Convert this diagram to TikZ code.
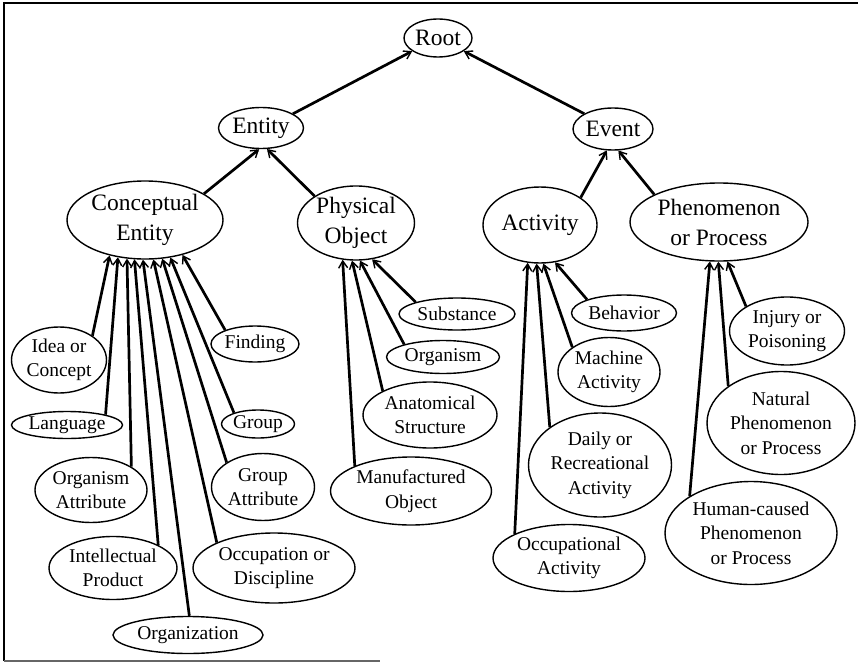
\documentclass[tikz,border=0pt]{standalone}
\usepackage{fontspec}
\setmainfont{Liberation Serif}
\usetikzlibrary{arrows.meta, shapes.geometric}

\newcommand{\bigtxt}{\fontsize{23.5}{30}\selectfont}
\newcommand{\smalltxt}{\fontsize{19.5}{24.5}\selectfont}

\begin{document}
\begin{tikzpicture}[
  x=1pt, y=-1pt,
  cls/.style 2 args={ellipse, draw, line width=1.4pt, inner sep=0pt, align=center,
             minimum width=#1, minimum height=#2},
  top/.style 2 args={cls={#1}{#2}, font=\bigtxt},
  leaf/.style 2 args={cls={#1}{#2}, font=\smalltxt},
  isa/.style={line width=2.7pt, -{Straight Barb[length=7pt, width=9pt, line width=1.4pt]}},
]
  \useasboundingbox (0,0) rectangle (858,663);
  \draw[line width=1.2pt] (858,3) -- (4,3) -- (4,661);
  \draw[line width=1.2pt, black!60] (4,661) -- (380,661);

  % upper levels
  \node[top={68pt}{38pt}] (root) at (438,38) {Root};
  \node[top={85pt}{41pt}] (entity) at (261,128) {Entity};
  \node[top={80pt}{42pt}] (event) at (613,129) {Event};
  \node[top={156pt}{78pt}] (concept) at (145,220) {Conceptual\\Entity};
  \node[top={117pt}{74pt}] (phys) at (356,223) {Physical\\Object};
  \node[top={114pt}{76pt}] (act) at (540,225) {Activity};
  \node[top={178pt}{78pt}] (phen) at (719,222) {Phenomenon\\or Process};

  % conceptual entity leaves
  \node[leaf={95pt}{66pt}] (idea) at (59,360) {Idea or\\Concept};
  \node[leaf={111pt}{27pt}] (lang) at (67,425) {Language};
  \node[leaf={112pt}{65pt}] (orgattr) at (91,490) {Organism\\Attribute};
  \node[leaf={128pt}{63pt}] (intel) at (113,568) {Intellectual\\Product};
  \node[leaf={150pt}{37pt}] (org) at (188,635) {Organization};
  \node[leaf={162pt}{70pt}] (occup) at (274,568) {Occupation or\\Discipline};
  \node[leaf={103pt}{67pt}] (grpattr) at (263,487) {Group\\Attribute};
  \node[leaf={73pt}{28pt}] (group) at (258,424) {Group};
  \node[leaf={88pt}{36pt}] (finding) at (255,344) {Finding};

  % physical object leaves
  \node[leaf={116pt}{32pt}] (subst) at (457,314) {Substance};
  \node[leaf={113pt}{33pt}] (organism) at (443,357) {Organism};
  \node[leaf={134pt}{66pt}] (anat) at (430,415) {Anatomical\\Structure};
  \node[leaf={161pt}{68pt}] (manuf) at (411,491) {Manufactured\\Object};

  % activity leaves
  \node[leaf={105pt}{36pt}] (behav) at (624,313) {Behavior};
  \node[leaf={102pt}{69pt}] (machine) at (609,372) {Machine\\Activity};
  \node[leaf={143pt}{104pt}] (daily) at (600,465) {Daily or\\Recreational\\Activity};
  \node[leaf={152pt}{67pt}] (occact) at (569,558) {Occupational\\Activity};

  % phenomenon leaves
  \node[leaf={115pt}{68pt}] (injury) at (787,331) {Injury or\\Poisoning};
  \node[leaf={148pt}{103pt}] (natural) at (781,423) {Natural\\Phenomenon\\or Process};
  \node[leaf={172pt}{103pt}] (human) at (751,533) {Human-caused\\Phenomenon\\or Process};

  % is-a links
  \draw[isa] (entity.24) -- (root.207);
  \draw[isa] (event.152) -- (root.333);
  \draw[isa] (concept.24) -- (entity.265);
  \draw[isa] (phys.147) -- (entity.286);
  \draw[isa] (act.34) -- (event.254);
  \draw[isa] (phen.157) -- (event.284);

  \draw[isa] (idea.36) -- (concept.225);
  \draw[isa] (lang.15) -- (concept.234);
  \draw[isa] (orgattr.30) -- (concept.245);
  \draw[isa] (intel.27) -- (concept.255);
  \draw[isa] (org.86) -- (concept.267);
  \draw[isa] (occup.156) -- (concept.282);
  \draw[isa] (grpattr.146) -- (concept.294);
  \draw[isa] (group.155) -- (concept.304);
  \draw[isa] (finding.155) -- (concept.317);

  \draw[isa] (manuf.156) -- (phys.250);
  \draw[isa] (anat.153) -- (phys.264);
  \draw[isa] (organism.162) -- (phys.276);
  \draw[isa] (subst.164) -- (phys.294);

  \draw[isa] (occact.156) -- (act.252);
  \draw[isa] (daily.143) -- (act.265);
  \draw[isa] (machine.146) -- (act.275);
  \draw[isa] (behav.160) -- (act.292);

  \draw[isa] (human.149) -- (phen.257);
  \draw[isa] (natural.145) -- (phen.269);
  \draw[isa] (injury.149) -- (phen.282);
\end{tikzpicture}
\end{document}
